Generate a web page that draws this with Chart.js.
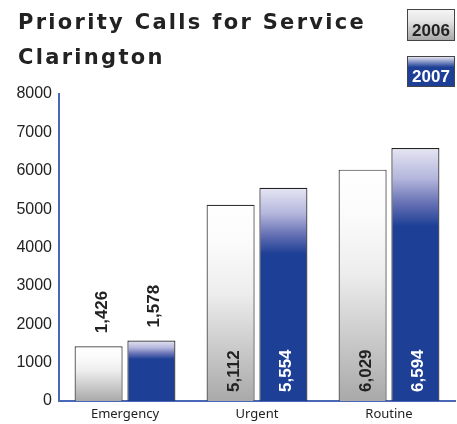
<!DOCTYPE html>
<html>
<head>
<meta charset="utf-8">
<script src="https://cdn.jsdelivr.net/npm/chart.js@4"></script>
<style>
  html, body { margin: 0; padding: 0; background: #fff; }
  #wrap { position: relative; width: 457px; height: 424px; }
  #title {
    position: absolute; left: 18px; top: 5px; margin: 0;
    font: bold 21px "DejaVu Sans", sans-serif; letter-spacing: 2.3px;
    line-height: 35px; color: #222;
  }
  .key {
    position: absolute; left: 407px; width: 48px; height: 32px;
    border: 1px solid #444; box-sizing: border-box;
    font: bold 17px "Liberation Sans", Arial, sans-serif;
    text-align: center; line-height: 17px; padding-top: 12px;
  }
  #k2006 { top: 9px; color: #222; background: linear-gradient(#f4f4f4, #e6e6e6 35%, #a8a8a8); }
  #k2007 { top: 56px; height: 31px; padding-top: 11px; color: #fff; background: linear-gradient(#e4e4f2, #1d3f95 35%, #1d3f95); }
  canvas { position: absolute; left: 0; top: 0; }
</style>
</head>
<body>
<div id="wrap">
  <canvas id="chart" width="457" height="424"></canvas>
  <div id="title">Priority Calls for Service<br>Clarington</div>
  <div class="key" id="k2006">2006</div>
  <div class="key" id="k2007">2007</div>
</div>
<script>
const categories = ['Emergency', 'Urgent', 'Routine'];
const values2006 = [1426, 5112, 6029];
const values2007 = [1578, 5554, 6594];
const yTicks = [0, 1000, 2000, 3000, 4000, 5000, 6000, 7000, 8000];

function barGradient(context, stops) {
  const chart = context.chart;
  const y = chart.scales.y;
  if (!chart.chartArea || !y || context.parsed === undefined) return stops[stops.length - 1][1];
  const top = y.getPixelForValue(context.parsed.y);
  const bottom = y.getPixelForValue(0);
  const g = chart.ctx.createLinearGradient(0, top, 0, bottom);
  stops.forEach(s => g.addColorStop(s[0], s[1]));
  return g;
}

const grayStops = [[0, '#ffffff'], [0.2, '#fbfbfb'], [0.45, '#ededed'], [1, '#a9a9a9']];
const blueStops = [[0, '#e6e6f3'], [0.12, '#b4b6dc'], [0.22, '#6570b4'], [0.31, '#1d3f95'], [1, '#1d3f95']];

// rotated value labels, inside the bar bottom or above a short bar
const valueLabels = {
  id: 'valueLabels',
  afterDatasetsDraw(chart) {
    const ctx = chart.ctx;
    ctx.save();
    ctx.font = 'bold 17px "Liberation Sans", Arial, sans-serif';
    chart.data.datasets.forEach((ds, di) => {
      chart.getDatasetMeta(di).data.forEach((bar, i) => {
        const text = ds.data[i].toLocaleString('en-US');
        const w = ctx.measureText(text).width;
        const h = bar.base - bar.y;
        let y0, color;
        if (h > w + 20) {
          y0 = bar.base - 9;
          color = di === 0 ? '#222' : '#fff';
        } else {
          y0 = bar.y - 13;
          color = '#222';
        }
        ctx.save();
        ctx.translate(bar.x + 8, y0);
        ctx.rotate(-Math.PI / 2);
        ctx.fillStyle = color;
        ctx.textAlign = 'left';
        ctx.fillText(text, 0, 0);
        ctx.restore();
      });
    });
    ctx.restore();
  }
};

new Chart(document.getElementById('chart'), {
  type: 'bar',
  data: {
    labels: categories,
    datasets: [
      {
        label: '2006',
        data: values2006,
        backgroundColor: c => barGradient(c, grayStops),
        borderColor: '#333',
        borderWidth: 1.2
      },
      {
        label: '2007',
        data: values2007,
        backgroundColor: c => barGradient(c, blueStops),
        borderColor: '#222',
        borderWidth: 1.2
      }
    ]
  },
  options: {
    responsive: false,
    animation: false,
    events: [],
    layout: { padding: { top: 94, right: 2, left: 0, bottom: 0 } },
    categoryPercentage: 0.8,
    barPercentage: 0.91,
    plugins: { legend: { display: false }, tooltip: { enabled: false } },
    scales: {
      x: {
        grid: { display: false, drawTicks: false },
        border: { color: '#4a68b8', width: 2 },
        ticks: { color: '#222', padding: 5, font: { family: '"Noto Sans", sans-serif', size: 13 } },
        afterFit: s => { s.height = 23; }
      },
      y: {
        min: 0,
        max: 8000,
        afterBuildTicks: s => { s.ticks = yTicks.map(v => ({ value: v })); },
        grid: { display: false, drawTicks: false },
        border: { color: '#4a68b8', width: 2 },
        ticks: {
          color: '#222', padding: 7,
          font: { family: '"Liberation Sans", Arial, sans-serif', size: 16 },
          callback: v => String(v)
        },
        afterFit: s => { s.width = 59; }
      }
    }
  },
  plugins: [valueLabels]
});
</script>
</body>
</html>
